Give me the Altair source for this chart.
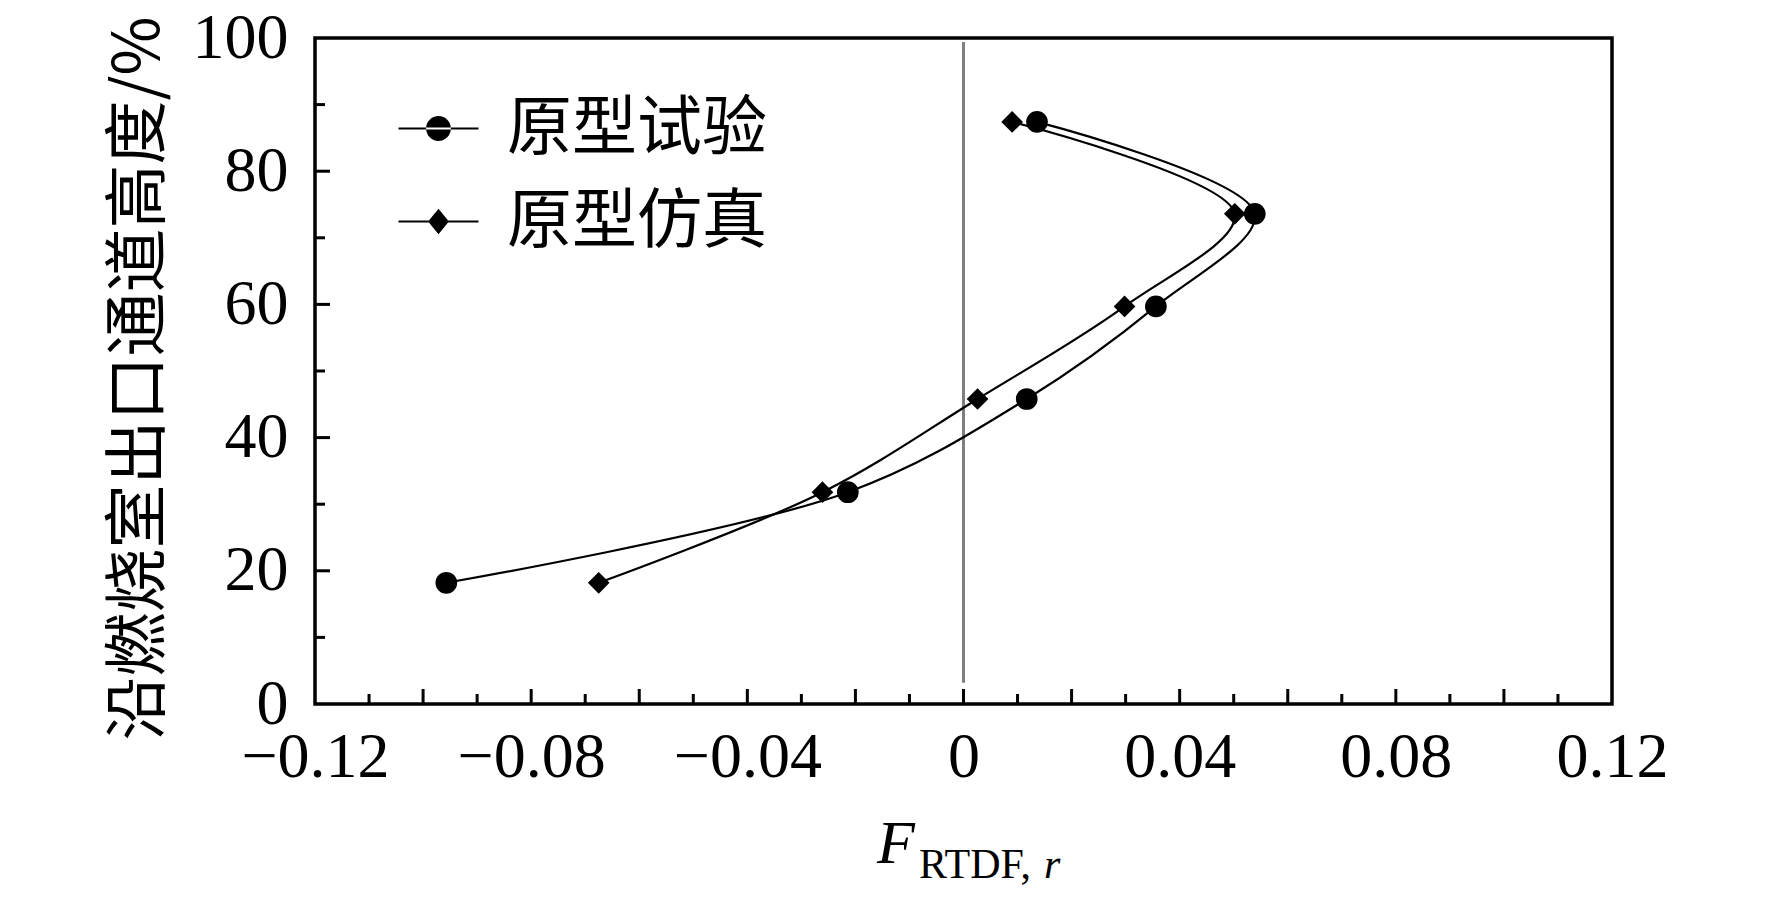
import altair as alt
import pandas as pd

# ---------------- data ----------------
series_names = ["原型试验", "原型仿真"]
heights = [18.2, 31.8, 45.8, 59.7, 73.6, 87.4]
exp_x = [-0.0957, -0.0214, 0.0117, 0.0356, 0.0539, 0.0136]
sim_x = [-0.0675, -0.0261, 0.0026, 0.0298, 0.0502, 0.0090]

x_label_values = [-0.12, -0.08, -0.04, 0, 0.04, 0.08, 0.12]
y_label_values = [0, 20, 40, 60, 80, 100]
x_major_ticks = [-0.10, -0.08, -0.06, -0.04, -0.02, 0.0, 0.02, 0.04, 0.06, 0.08, 0.10]
x_minor_ticks = [-0.11, -0.09, -0.07, -0.05, -0.03, -0.01, 0.01, 0.03, 0.05, 0.07, 0.09, 0.11]
y_major_ticks = [20, 40, 60, 80]
y_minor_ticks = [10, 30, 50, 70, 90]
zero_line = {"x": [0.0], "y": [99.4], "y2": [3.2]}

y_title = "沿燃烧室出口通道高度/%"
x_title_main = ["F"]
x_title_sub = ["RTDF,"]
x_title_sub2 = ["r"]

rows = []
for name, xs in zip(series_names, [exp_x, sim_x]):
    for xv, yv in zip(xs, heights):
        rows.append({"series": name, "x": xv, "y": yv})
df = pd.DataFrame(rows)

# ---------------- layout ----------------
W, H = 1297, 666
SERIF = "Liberation Serif"
CJK = "Noto Sans CJK SC"

x_scale = alt.Scale(domain=[-0.12, 0.12], nice=False, zero=False)
y_scale = alt.Scale(domain=[0, 100], nice=False, zero=False)

x_enc = alt.X("x:Q", scale=x_scale,
              axis=alt.Axis(values=x_label_values, format=".2~f", labelFont=SERIF,
                            labelFontSize=64, labelColor="black", labelPadding=21,
                            ticks=False, tickSize=0, domain=False, grid=False,
                            title=None, labelFlush=False, labelOverlap=False))
y_enc = alt.Y("y:Q", scale=y_scale,
              axis=alt.Axis(values=y_label_values, format="d", labelFont=SERIF,
                            labelFontSize=64, labelColor="black", labelPadding=27,
                            ticks=False, tickSize=0, domain=False, grid=False,
                            title=y_title, titleFont=CJK, titleFontSize=64,
                            titleFontWeight="normal", titleColor="black",
                            titleX=-176, titleY=340, titleAngle=270,
                            titleAlign="center", titleBaseline="middle",
                            labelFlush=False, labelOverlap=False))

zero = alt.Chart(pd.DataFrame(zero_line)).mark_rule(color="#7f7f7f", strokeWidth=3).encode(
    x=x_enc, y=y_enc, y2="y2:Q")

lines = alt.Chart(df).mark_line(interpolate="catmull-rom", color="black", strokeWidth=2.2).encode(
    x=x_enc, y=y_enc, detail="series:N", order=alt.Order("y:Q"))

points = alt.Chart(df).mark_point(filled=True, color="black", size=470, opacity=1).encode(
    x=x_enc, y=y_enc,
    shape=alt.Shape("series:N", scale=alt.Scale(domain=series_names, range=["circle", "diamond"]),
                    legend=None))

legend_paths = [
    "M-1,-0.028H1V0.028H-1ZM-0.31,0A0.31,0.31,0,1,0,0.31,0A0.31,0.31,0,1,0,-0.31,0Z",
    "M-1,-0.028H1V0.028H-1ZM0,-0.32L0.26,0L0,0.32L-0.26,0Z",
]
legend_layer = alt.Chart(df).transform_filter("false").transform_calculate(
    key="datum.series").mark_point(filled=True, fill="black", stroke="black", strokeWidth=0).encode(
    x=x_enc, y=y_enc,
    shape=alt.Shape("key:N", scale=alt.Scale(domain=series_names, range=legend_paths),
                    legend=alt.Legend(orient="none", legendX=83.5, legendY=50.5, title=None,
                                      symbolSize=6400, symbolStrokeWidth=0,
                                      symbolFillColor="black", symbolStrokeColor="black",
                                      symbolOpacity=1, labelFont=CJK, labelFontSize=65,
                                      labelColor="black", labelOffset=28.5, rowPadding=20,
                                      padding=0, labelLimit=1000)))

def xticks(vals, length):
    return alt.Chart(pd.DataFrame({"x": vals})).mark_rule(color="black", strokeWidth=3).encode(
        x=x_enc, y=alt.value(H), y2=alt.value(H - length))

def yticks(vals, length):
    return alt.Chart(pd.DataFrame({"y": vals})).mark_rule(color="black", strokeWidth=3).encode(
        y=y_enc, x=alt.value(0), x2=alt.value(length))

t_main = alt.Chart(pd.DataFrame({"t": x_title_main})).mark_text(
    font=SERIF, fontStyle="italic", fontSize=62, align="left", baseline="alphabetic",
    color="black").encode(text="t:N", x=alt.value(562), y=alt.value(825))
t_sub = alt.Chart(pd.DataFrame({"t": x_title_sub})).mark_text(
    font=SERIF, fontSize=42, align="left", baseline="alphabetic",
    color="black").encode(text="t:N", x=alt.value(604), y=alt.value(840))
t_sub2 = alt.Chart(pd.DataFrame({"t": x_title_sub2})).mark_text(
    font=SERIF, fontStyle="italic", fontSize=42, align="left", baseline="alphabetic",
    color="black").encode(text="t:N", x=alt.value(729), y=alt.value(840))

chart = alt.layer(
    zero, lines, points,
    xticks(x_major_ticks, 15), xticks(x_minor_ticks, 10),
    yticks(y_major_ticks, 15), yticks(y_minor_ticks, 10),
    t_main, t_sub, t_sub2, legend_layer,
).resolve_scale(shape="independent").properties(
    width=W, height=H,
    autosize=alt.AutoSizeParams(type="none"),
    padding={"left": 307, "top": 30, "right": 152, "bottom": 186},
).configure_view(stroke="black", strokeWidth=3.5).configure_axis(grid=False)

chart.save("out.html", embed_options={"renderer": "svg", "actions": False})
